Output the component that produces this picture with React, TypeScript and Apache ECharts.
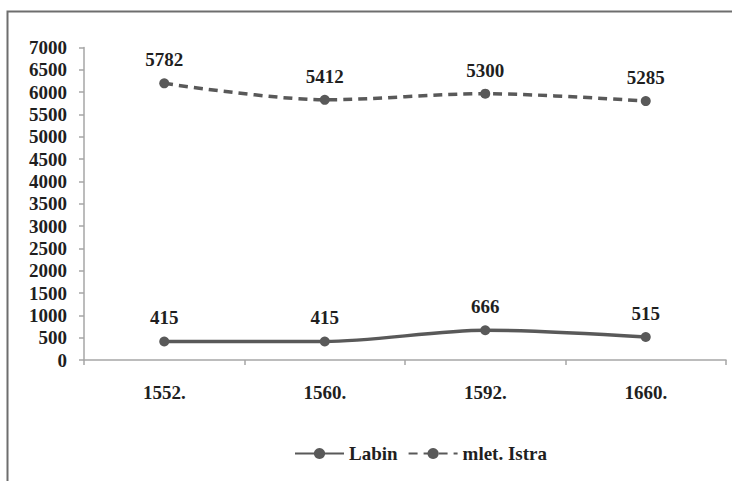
import React, { useEffect, useRef } from "react";
import * as echarts from "echarts";

const years = ["1552.", "1560.", "1592.", "1660."];
const labin = [415, 415, 666, 515];
const istra = [5782, 5412, 5300, 5285];
const yMin = 0;
const yMax = 7000;
const yInterval = 500;

const FONT = "Liberation Serif";
const LINE = "#595959";
const TEXT = "#1f1f1f";

export default function App() {
  const ref = useRef<HTMLDivElement>(null);
  useEffect(() => {
    if (!ref.current) return;
    const chart = echarts.init(ref.current, undefined, { renderer: "svg" });
    const labelStyle = {
      show: true,
      position: "top" as const,
      distance: 9,
      fontFamily: FONT,
      fontWeight: "bold" as const,
      fontSize: 19,
      color: TEXT,
    };
    chart.setOption({
      animation: false,
      backgroundColor: "#ffffff",
      textStyle: { fontFamily: FONT },
      graphic: [
        {
          type: "polyline",
          shape: { points: [[7.5, 481], [7.5, 11.5], [732, 11.5]] },
          style: { stroke: "#6e6e6e", lineWidth: 2, fill: "none" },
          silent: true,
        },
      ],
      grid: { left: 84, right: 6, top: 47.5, bottom: 121, containLabel: false },
      legend: {
        bottom: 13,
        left: 289,
        itemWidth: 49,
        itemHeight: 14,
        itemGap: 10,
        textStyle: { fontFamily: FONT, fontWeight: "bold", fontSize: 19, color: TEXT },
        data: ["Labin", "mlet. Istra"],
      },
      xAxis: {
        type: "category",
        data: years,
        boundaryGap: true,
        axisLine: { lineStyle: { color: "#a6a6a6", width: 1.5 } },
        axisTick: { show: true, length: 5, lineStyle: { color: "#a6a6a6", width: 1.5 } },
        axisLabel: { margin: 23, fontFamily: FONT, fontWeight: "bold", fontSize: 19, color: TEXT },
        splitLine: { show: false },
      },
      yAxis: {
        type: "value",
        min: yMin,
        max: yMax,
        interval: yInterval,
        axisLine: { show: true, lineStyle: { color: "#a6a6a6", width: 1.5 } },
        axisTick: { show: true, length: 5, lineStyle: { color: "#a6a6a6", width: 1.5 } },
        axisLabel: {
          margin: 17,
          fontFamily: FONT,
          fontWeight: "bold",
          fontSize: 19,
          color: TEXT,
          formatter: (v: number) => String(v),
        },
        splitLine: { show: false },
      },
      series: [
        {
          name: "Labin",
          type: "line",
          stack: "total",
          data: labin,
          smooth: 0.3,
          symbol: "circle",
          symbolSize: 10,
          itemStyle: { color: LINE },
          lineStyle: { color: LINE, width: 3.5 },
          label: labelStyle,
        },
        {
          name: "mlet. Istra",
          type: "line",
          stack: "total",
          data: istra,
          smooth: 0.3,
          symbol: "circle",
          symbolSize: 10,
          itemStyle: { color: LINE },
          lineStyle: { color: LINE, width: 3.5, type: [9, 6] },
          label: labelStyle,
        },
      ],
    });
    return () => chart.dispose();
  }, []);
  return (
    <div
      ref={ref}
      style={{ position: "fixed", left: 0, top: 0, width: 732, height: 481 }}
    />
  );
}
